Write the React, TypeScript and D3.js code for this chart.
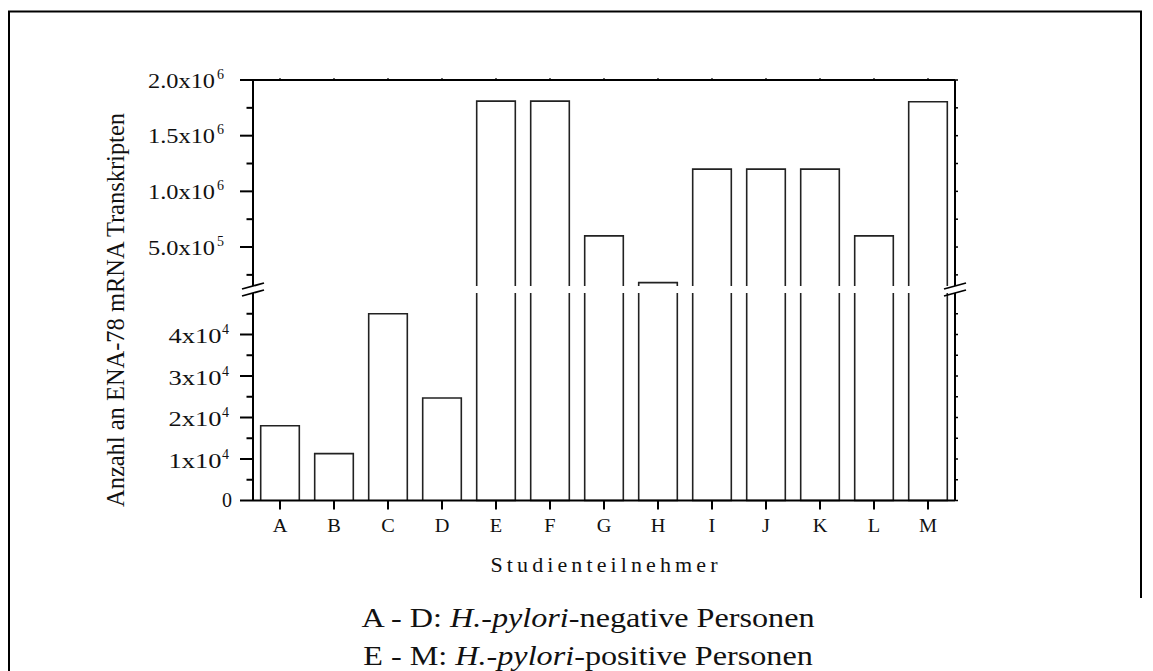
import React from "react";
import * as d3 from "d3";

const categories = ["A", "B", "C", "D", "E", "F", "G", "H", "I", "J", "K", "L", "M"];
const values = [18000, 11300, 45000, 24700, 1810000, 1810000, 600000, 180000, 1200000, 1200000, 1200000, 600000, 1805000];

const lowerMajorTicks = [0, 10000, 20000, 30000, 40000];
const lowerTickMantissa = ["0", "1", "2", "3", "4"];
const lowerTickExp = ["", "4", "4", "4", "4"];
const lowerMinorTicks = [5000, 15000, 25000, 35000, 45000];

const upperMajorTicks = [500000, 1000000, 1500000, 2000000];
const upperTickMantissa = ["5.0", "1.0", "1.5", "2.0"];
const upperTickExp = ["5", "6", "6", "6"];
const upperMinorTicks = [250000, 750000, 1250000, 1750000];

const lowerDomain = [0, 50000];
const upperDomain = [150000, 2000000];

const yLabel = "Anzahl an ENA-78 mRNA Transkripten";
const xLabel = "Studienteilnehmer";

const FONT = "'Liberation Serif', 'Times New Roman', serif";

export default function App() {
  const W = 1153, H = 671;
  const left = 253, right = 955, top = 80, bottom = 500.5;
  const lowerTop = 293, upperBottom = 286;

  const x = d3.scaleBand<string>().domain(categories).range([left, right]).paddingInner(0.285).paddingOuter(0.1425);
  const yLow = d3.scaleLinear().domain(lowerDomain).range([bottom, lowerTop]);
  const yUp = d3.scaleLinear().domain(upperDomain).range([upperBottom, top]);

  const bw = x.bandwidth();
  const axisColor = "#000";
  const barColor = "#222";

  const bars = categories.map((c, i) => {
    const v = values[i];
    const x0 = x(c) as number;
    const x1 = x0 + bw;
    const paths: string[] = [];
    if (v <= lowerDomain[1]) {
      paths.push(`M${x0},${yLow(0)}L${x0},${yLow(v)}L${x1},${yLow(v)}L${x1},${yLow(0)}`);
    } else {
      paths.push(`M${x0},${yLow(lowerDomain[1])}L${x0},${yLow(0)}L${x1},${yLow(0)}L${x1},${yLow(lowerDomain[1])}`);
      paths.push(`M${x0},${yUp(upperDomain[0])}L${x0},${yUp(v)}L${x1},${yUp(v)}L${x1},${yUp(upperDomain[0])}`);
    }
    return (
      <g key={c}>
        {paths.map((p, j) => (
          <path key={j} d={p} fill="#fff" stroke={barColor} strokeWidth={1.6} />
        ))}
      </g>
    );
  });

  const breakMarks = [left, right].flatMap((ax) =>
    [yUp(upperDomain[0]), yLow(lowerDomain[1])].map((yb, k) => (
      <line key={`${ax}-${k}`} x1={ax - 11} y1={yb + 3} x2={ax + 11} y2={yb - 3} stroke={axisColor} strokeWidth={1.8} />
    ))
  );

  return (
    <svg width={W} height={H} style={{ position: "absolute", left: 0, top: 0, background: "#fff" }} fontFamily={FONT}>
      <rect x={0} y={0} width={W} height={H} fill="#fff" />
      {/* outer frame */}
      <path d={`M9,671L9,11.5L1141,11.5L1141,598`} fill="none" stroke="#000" strokeWidth={2} />

      {bars}

      {/* axes */}
      <g stroke={axisColor} strokeWidth={2}>
        <line x1={left} y1={yUp(upperDomain[1])} x2={left} y2={yUp(upperDomain[0])} />
        <line x1={left} y1={yLow(lowerDomain[1])} x2={left} y2={yLow(0)} />
        <line x1={right} y1={yUp(upperDomain[1])} x2={right} y2={yUp(upperDomain[0])} />
        <line x1={right} y1={yLow(lowerDomain[1])} x2={right} y2={yLow(0)} />
        <line x1={left} y1={top} x2={right} y2={top} />
        <line x1={left} y1={bottom} x2={right} y2={bottom} />
      </g>
      {breakMarks}

      {/* y ticks left */}
      <g stroke={axisColor} strokeWidth={2}>
        {upperMajorTicks.map((t) => (
          <line key={"um" + t} x1={left - 13} y1={yUp(t)} x2={left} y2={yUp(t)} />
        ))}
        {upperMinorTicks.map((t) => (
          <line key={"un" + t} x1={left - 6.5} y1={yUp(t)} x2={left} y2={yUp(t)} />
        ))}
        {lowerMajorTicks.map((t) => (
          <line key={"lm" + t} x1={left - 13} y1={yLow(t)} x2={left} y2={yLow(t)} />
        ))}
        {lowerMinorTicks.map((t) => (
          <line key={"ln" + t} x1={left - 6.5} y1={yLow(t)} x2={left} y2={yLow(t)} />
        ))}
        {/* right side small ticks */}
        {[...upperMajorTicks, ...upperMinorTicks].map((t) => (
          <line key={"ru" + t} x1={right} y1={yUp(t)} x2={right + 3} y2={yUp(t)} strokeWidth={1.5} />
        ))}
        {[...lowerMajorTicks, ...lowerMinorTicks].map((t) => (
          <line key={"rl" + t} x1={right} y1={yLow(t)} x2={right + 3} y2={yLow(t)} strokeWidth={1.5} />
        ))}
        {/* bottom ticks */}
        {categories.map((c) => {
          const cx = (x(c) as number) + bw / 2;
          return <line key={"bx" + c} x1={cx} y1={bottom} x2={cx} y2={bottom + 9} />;
        })}
        {/* top small ticks */}
        {categories.map((c) => {
          const cx = (x(c) as number) + bw / 2;
          return <line key={"tx" + c} x1={cx} y1={top} x2={cx} y2={top - 2} strokeWidth={1.2} />;
        })}
      </g>

      {/* y tick labels upper */}
      <g fill="#111">
        {upperMajorTicks.map((t, i) => (
          <g key={"ul" + t}>
            <text x={left - 38} y={yUp(t) + 7.5} fontSize={20} textAnchor="end" textLength={67} lengthAdjust="spacingAndGlyphs">
              {upperTickMantissa[i] + "x10"}
            </text>
            <text x={left - 36} y={yUp(t) - 1.5} fontSize={14} textAnchor="start">
              {upperTickExp[i]}
            </text>
          </g>
        ))}
        {lowerMajorTicks.map((t, i) =>
          lowerTickExp[i] ? (
            <g key={"ll" + t}>
              <text x={left - 31.5} y={yLow(t) + 8.5} fontSize={20} textAnchor="end" textLength={53} lengthAdjust="spacingAndGlyphs">
                {lowerTickMantissa[i] + "x10"}
              </text>
              <text x={left - 31} y={yLow(t) - 0.5} fontSize={14} textAnchor="start">
                {lowerTickExp[i]}
              </text>
            </g>
          ) : (
            <text key={"ll" + t} x={left - 21} y={yLow(t) + 6.5} fontSize={20} textAnchor="end">
              {lowerTickMantissa[i]}
            </text>
          )
        )}
      </g>

      {/* x tick labels */}
      <g fill="#111">
        {categories.map((c) => {
          const cx = (x(c) as number) + bw / 2;
          return (
            <text key={"xl" + c} transform={`translate(${cx},${bottom + 31}) scale(1.13,1)`} fontSize={18} textAnchor="middle">
              {c}
            </text>
          );
        })}
      </g>

      {/* axis titles */}
      <text transform={`translate(124,310) rotate(-90)`} fontSize={25} textAnchor="middle" textLength={394} lengthAdjust="spacingAndGlyphs" fill="#111">
        {yLabel}
      </text>
      <text x={(left + right) / 2} y={571.5} fontSize={22} textAnchor="middle" textLength={227} lengthAdjust="spacing" fill="#111">
        {xLabel}
      </text>

      {/* caption */}
      <text transform="translate(588,626.5) scale(1.15,1)" fontSize={28} textAnchor="middle" fill="#111">
        A - D: <tspan fontStyle="italic">H.-pylori</tspan>-negative Personen
      </text>
      <text transform="translate(588,665) scale(1.15,1)" fontSize={28} textAnchor="middle" fill="#111">
        E - M: <tspan fontStyle="italic">H.-pylori</tspan>-positive Personen
      </text>
    </svg>
  );
}
